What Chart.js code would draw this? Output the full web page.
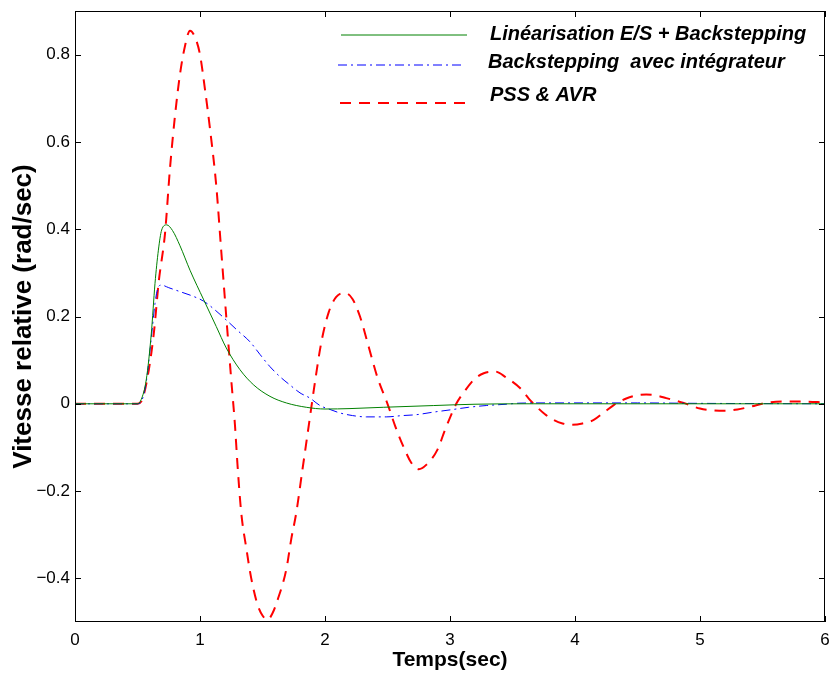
<!DOCTYPE html>
<html>
<head>
<meta charset="utf-8">
<script src="https://cdn.jsdelivr.net/npm/chart.js@4.4.0/dist/chart.umd.min.js"></script>
<style>
	html, body { margin: 0; padding: 0; background: #fff; }
	#wrap { width: 830px; height: 680px; }
</style>
</head>
<body>
<div id="wrap"><canvas id="myChart" width="830" height="680"></canvas></div>
<script>
// donnees (temps en s, vitesse relative en rad/s)
var tLin = [0, 0.5, 0.53, 0.57, 0.61, 0.64, 0.667, 0.693, 0.733, 0.78, 0.84, 0.92, 1.03, 1.13, 1.21, 1.32, 1.43, 1.56, 1.69, 1.85, 2.0, 2.2, 2.47, 2.87, 3.2, 3.6, 6];
var vLin = [0, 0, 0.01, 0.055, 0.16, 0.276, 0.352, 0.398, 0.41, 0.397, 0.362, 0.306, 0.238, 0.177, 0.128, 0.078, 0.043, 0.017, 0.002, -0.008, -0.012, -0.011, -0.008, -0.004, -0.001, 0, 0];

var tInt = [0, 0.5, 0.53, 0.57, 0.61, 0.64, 0.66, 0.69, 0.75, 0.84, 0.93, 1.03, 1.12, 1.21, 1.3, 1.4, 1.48, 1.56, 1.64, 1.72, 1.8, 1.88, 1.96, 2.04, 2.12, 2.22, 2.33, 2.49, 2.62, 2.73, 2.87, 3.0, 3.15, 3.29, 3.45, 3.56, 3.8, 4.5, 5.0, 6];
var vInt = [0, 0, 0.005, 0.05, 0.15, 0.23, 0.262, 0.272, 0.266, 0.257, 0.248, 0.235, 0.215, 0.192, 0.168, 0.142, 0.113, 0.085, 0.062, 0.043, 0.025, 0.013, -0.004, -0.013, -0.021, -0.027, -0.03, -0.03, -0.027, -0.025, -0.019, -0.014, -0.008, -0.004, -0.001, 0.0015, 0.002, 0.002, 0.001, 0];

var tPss = [0, 0.5, 0.53, 0.57, 0.63, 0.67, 0.72, 0.76, 0.8, 0.84, 0.88, 0.92, 0.96, 1.0, 1.04, 1.08, 1.13, 1.17, 1.21, 1.25, 1.28, 1.3, 1.33, 1.37, 1.41, 1.46, 1.5, 1.54, 1.58, 1.62, 1.69, 1.73, 1.77, 1.82, 1.87, 1.92, 1.97, 2.03, 2.09, 2.16, 2.22, 2.28, 2.35, 2.42, 2.5, 2.56, 2.63, 2.69, 2.75, 2.81, 2.9, 2.96, 3.05, 3.12, 3.19, 3.27, 3.36, 3.45, 3.56, 3.63, 3.69, 3.76, 3.83, 3.9, 3.97, 4.06, 4.15, 4.23, 4.31, 4.41, 4.49, 4.57, 4.65, 4.73, 4.87, 5.0, 5.1, 5.2, 5.3, 5.4, 5.53, 5.67, 5.83, 6.0];
var vPss = [0, 0, 0.005, 0.045, 0.16, 0.28, 0.39, 0.54, 0.66, 0.755, 0.82, 0.855, 0.84, 0.8, 0.72, 0.63, 0.5, 0.35, 0.2, 0.055, -0.05, -0.14, -0.25, -0.33, -0.4, -0.46, -0.485, -0.495, -0.48, -0.45, -0.38, -0.31, -0.25, -0.15, -0.05, 0.05, 0.14, 0.21, 0.245, 0.254, 0.24, 0.2, 0.13, 0.06, 0.0, -0.05, -0.1, -0.135, -0.15, -0.14, -0.105, -0.06, 0, 0.03, 0.055, 0.07, 0.074, 0.06, 0.036, 0.012, -0.006, -0.024, -0.037, -0.045, -0.048, -0.045, -0.037, -0.02, -0.003, 0.012, 0.019, 0.021, 0.019, 0.013, 0.002, -0.011, -0.015, -0.016, -0.013, -0.007, 0.002, 0.005, 0.005, 0.003];

var xTicks = [0, 1, 2, 3, 4, 5, 6];
var yTicks = [-0.4, -0.2, 0, 0.2, 0.4, 0.6, 0.8];

var police = "'Liberation Sans', Arial, Helvetica, sans-serif";

function points(t, v) {
	var res = [];
	for (var i = 0; i < t.length; i++) {
		res.push({ x : t[i], y : v[i] });
	}
	return res;
}

function etiquette(v) {
	var s = String(Math.round(v * 10) / 10);
	return s.replace('-', '\u2212');
}

// cadre + graduations vers l'interieur, facon matlab
var cadre = {
	id : 'cadre',
	afterDraw : function(chart) {
		var ctx = chart.ctx, a = chart.chartArea;
		var sx = chart.scales.x, sy = chart.scales.y;
		var L = 6;
		ctx.save();
		ctx.strokeStyle = '#000';
		ctx.lineWidth = 1;
		ctx.strokeRect(a.left + 0.5, a.top + 0.5, a.right - a.left - 1, a.bottom - a.top - 1);
		ctx.beginPath();
		xTicks.forEach(function(v) {
			var px = Math.round(sx.getPixelForValue(v)) + 0.5;
			ctx.moveTo(px, a.bottom); ctx.lineTo(px, a.bottom - L);
			ctx.moveTo(px, a.top); ctx.lineTo(px, a.top + L);
		});
		yTicks.forEach(function(v) {
			var py = Math.round(sy.getPixelForValue(v)) + 0.5;
			ctx.moveTo(a.left, py); ctx.lineTo(a.left + L, py);
			ctx.moveTo(a.right, py); ctx.lineTo(a.right - L, py);
		});
		ctx.stroke();
		ctx.restore();
	}
};

// legende dessinee a la main dans la zone du graphe
var legende = {
	id : 'legende',
	afterDraw : function(chart) {
		var ctx = chart.ctx;
		var lignes = [ { y : 35, x0 : 341, x1 : 467, ty : 40, tx : 490 },
		               { y : 65, x0 : 338, x1 : 462, ty : 68, tx : 488 },
		               { y : 103, x0 : 340, x1 : 467, ty : 101, tx : 490 } ];
		ctx.save();
		chart.data.datasets.forEach(function(ds, i) {
			var l = lignes[i];
			ctx.strokeStyle = ds.borderColor;
			ctx.lineWidth = ds.borderWidth;
			ctx.setLineDash(ds.borderDash || []);
			ctx.beginPath();
			ctx.moveTo(l.x0, l.y);
			ctx.lineTo(l.x1, l.y);
			ctx.stroke();
			ctx.setLineDash([]);
			ctx.fillStyle = '#000';
			ctx.font = 'italic bold 20px ' + police;
			ctx.textBaseline = 'alphabetic';
			ctx.fillText(ds.label, l.tx, l.ty);
		});
		ctx.restore();
	}
};

var ctx = document.getElementById('myChart').getContext('2d');
var chart = new Chart(ctx, {
	type : 'line',
	data : {
		datasets : [ {
			label : 'Linéarisation E/S + Backstepping',
			data : points(tLin, vLin),
			borderColor : 'rgb(0, 128, 0)',
			borderWidth : 1,
			fill : false
		}, {
			label : 'Backstepping  avec intégrateur',
			data : points(tInt, vInt),
			borderColor : 'rgb(0, 0, 255)',
			borderWidth : 1,
			borderDash : [ 9, 4, 2, 4 ],
			fill : false
		}, {
			label : 'PSS & AVR',
			data : points(tPss, vPss),
			borderColor : 'rgb(255, 0, 0)',
			borderWidth : 2,
			borderDash : [ 11, 8 ],
			fill : false
		} ]
	},
	options : {
		responsive : false,
		animation : false,
		devicePixelRatio : 1,
		layout : {
			padding : { top : 11, right : 5, left : 0, bottom : 0 }
		},
		elements : {
			point : { radius : 0 },
			line : { cubicInterpolationMode : 'monotone' }
		},
		plugins : {
			legend : { display : false },
			tooltip : { enabled : false }
		},
		scales : {
			x : {
				type : 'linear',
				min : 0,
				max : 6,
				afterBuildTicks : function(s) {
					s.ticks = xTicks.map(function(v) { return { value : v }; });
				},
				afterFit : function(s) {
					s.height = 58;
					s.paddingLeft = 0;
					s.paddingRight = 0;
				},
				grid : { display : false, drawTicks : false },
				border : { display : false },
				ticks : {
					color : '#000',
					padding : 8,
					maxRotation : 0,
					font : { family : police, size : 17 },
					callback : function(v) { return etiquette(v); }
				},
				title : {
					display : true,
					text : 'Temps(sec)',
					color : '#000',
					padding : { top : 0, bottom : 7 },
					font : { family : police, size : 21, weight : 'bold' }
				}
			},
			y : {
				type : 'linear',
				min : -0.5,
				max : 0.9,
				afterBuildTicks : function(s) {
					s.ticks = yTicks.map(function(v) { return { value : v }; });
				},
				afterFit : function(s) {
					s.width = 75;
					s.paddingTop = 0;
					s.paddingBottom = 0;
				},
				grid : { display : false, drawTicks : false },
				border : { display : false },
				ticks : {
					color : '#000',
					padding : 5,
					font : { family : police, size : 17 },
					callback : function(v) { return etiquette(v); }
				},
				title : {
					display : true,
					text : 'Vitesse relative (rad/sec)',
					color : '#000',
					padding : { top : 8, bottom : 0 },
					font : { family : police, size : 26, weight : 'bold' }
				}
			}
		}
	},
	plugins : [ cadre, legende ]
});
</script>
</body>
</html>
